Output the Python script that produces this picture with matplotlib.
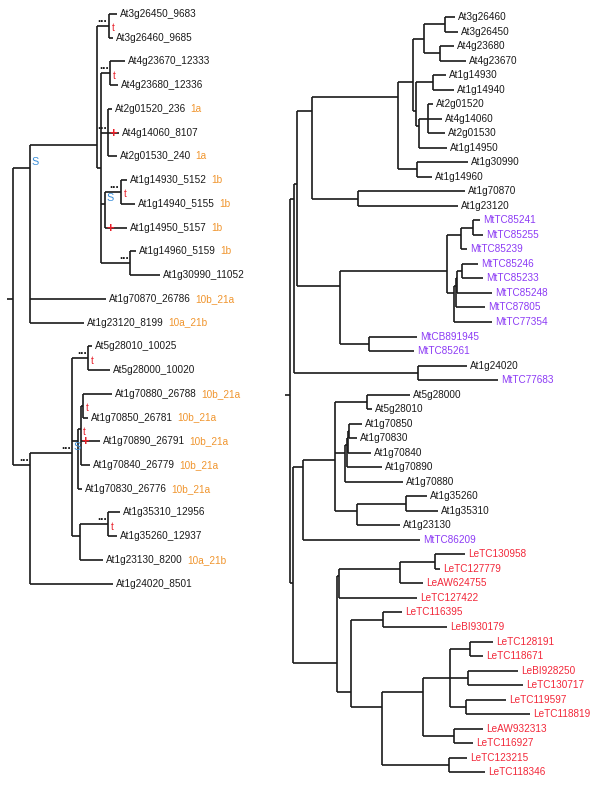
import matplotlib
matplotlib.use("Agg")
import matplotlib.pyplot as plt

plt.rcParams['font.family'] = ['Liberation Sans', 'DejaVu Sans']

# Left tree (Arabidopsis genes), branch lengths.
# Internal node labels: d = dots, t = red t, S = blue S
left_newick = (
    "((((At3g26450_9683:8,At3g26460_9685:4)dt:12,"
    "((At4g23670_12333:15,At4g23680_12336:8)dt:9,"
    "(At2g01520_236:4,At4g14060_8107:11,At2g01530_240:9)d:7,"
    "((At1g14930_5152:6,At1g14940_5155:14)dt:16,At1g14950_5157:22)S:4,"
    "(At1g14960_5159:6,At1g30990_11052:30)d:29):4):67,"
    "At1g70870_26786:76,At1g23120_8199:54)S:17,"
    "(((At5g28010_10025:4,At5g28000_10020:22)dt:16,"
    "(((At1g70880_26788:29,At1g70850_26781:5)t:2.5,At1g70890_26791:19.5,"
    "At1g70840_26779:9.5)t:2.5,At1g70830_26776:4):6,"
    "((At1g35310_12956:12,At1g35260_12937:9)dt:28,At1g23130_8200:23):8)dS:42,"
    "At1g24020_8501:83)d:17)"
)
left_tags = {
    "At2g01520_236": "1a", "At2g01530_240": "1a",
    "At1g14930_5152": "1b", "At1g14940_5155": "1b",
    "At1g14950_5157": "1b", "At1g14960_5159": "1b",
    "At1g70870_26786": "10b_21a", "At1g23120_8199": "10a_21b",
    "At1g70880_26788": "10b_21a", "At1g70850_26781": "10b_21a",
    "At1g70890_26791": "10b_21a", "At1g70840_26779": "10b_21a",
    "At1g70830_26776": "10b_21a", "At1g23130_8200": "10a_21b",
}
left_leaf_marks = ["At4g14060_8107", "At1g14950_5157", "At1g70890_26791"]

# Right tree (Arabidopsis, Medicago, tomato)
right_newick = (
    "((((((((At3g26460:10,At3g26450:13):21,(At4g23680:14,At4g23670:26):16):11,"
    "((At1g14930:13,At1g14940:21):17,((At2g01520:5,At4g14060:14,At2g01530:17):9,"
    "At1g14950:28):3):3):15,(At1g30990:51,At1g14960:15):19):86,"
    "(At1g70870:107,At1g23120:100):46):15,"
    "((((MtTC85241:7,MtTC85255:10):12,MtTC85239:6):14,"
    "((((MtTC85246:16,MtTC85233:21):5,MtTC85248:35):1,MtTC87805:29):2,MtTC77354:38):7):107,"
    "(MtCB891945:48,MtTC85261:45):29):43):3,"
    "(At1g24020:49,MtTC77683:80):124):4,"
    "((((At5g28000:43,At5g28010:5):32,"
    "((((At1g70850:13,At1g70830:8):1,At1g70840:23):1,At1g70890:35):2,At1g70880:58):10,"
    "((At1g35260:21,At1g35310:32):49,At1g23130:43):22):32,MtTC86209:117):10,"
    "((((LeTC130958:30,LeTC127779:5):35,LeAW624755:23):61,LeTC127422:78):2,"
    "((LeTC116395:19,LeBI930179:64):32,"
    "((((LeTC128191:23,LeTC118671:13):20,(LeBI928250:50,LeTC130717:55):18,"
    "(LeTC119597:40,LeTC118819:64):16):27,(LeAW932313:29,LeTC116927:19):31):41,"
    "(LeTC123215:18,LeTC118346:36):67):31):14):44):3)"
)

BLACK = "#1a1a1a"
ORANGE = "#f0952e"
BLUE = "#3b8fd9"
RED = "#e8202a"
PURPLE = "#8d3cf5"
LE_RED = "#f2283a"
FS = 7.2
LW = 1.2


def parse_newick(s):
    pos = 0

    def node():
        nonlocal pos
        children = []
        if s[pos] == '(':
            pos += 1
            children.append(node())
            while s[pos] == ',':
                pos += 1
                children.append(node())
            pos += 1
        start = pos
        while pos < len(s) and s[pos] not in ':,)':
            pos += 1
        name = s[start:pos]
        length = 0.0
        if pos < len(s) and s[pos] == ':':
            pos += 1
            start = pos
            while pos < len(s) and s[pos] not in ',)':
                pos += 1
            length = float(s[start:pos])
        return {'name': name, 'len': length, 'children': children}

    return node()


def layout(tree):
    leaves = []

    def walk(n, x):
        n['x'] = x + n['len']
        if not n['children']:
            n['y'] = float(len(leaves))
            leaves.append(n)
            return [n['y']]
        ys = []
        for c in n['children']:
            ys += walk(c, n['x'])
        n['y'] = sum(ys) / len(ys)
        return ys

    tree['len'] = 0.0
    walk(tree, 0.0)
    return leaves


def draw_tree(ax, tree, stub, label_color, tags=None, leaf_marks=(), events=False):
    tags = tags or {}
    ax.plot([-stub, 0], [tree['y'], tree['y']], color=BLACK, lw=LW, solid_capstyle='butt')

    def walk(n, parent_x):
        if parent_x is not None:
            ax.plot([parent_x, n['x']], [n['y'], n['y']], color=BLACK, lw=LW,
                    solid_capstyle='butt')
        if n['children']:
            ys = [c['y'] for c in n['children']]
            ax.plot([n['x'], n['x']], [min(ys), max(ys)], color=BLACK, lw=LW,
                    solid_capstyle='butt')
            for c in n['children']:
                walk(c, n['x'])
            if events:
                if 'd' in n['name']:
                    ax.text(n['x'] - 1.5, n['y'] - 0.04, "...", fontsize=8.5, fontweight='bold',
                            ha='right', va='bottom', color=BLACK)
                if 't' in n['name']:
                    ax.text(n['x'] + 2.5, n['y'] + 0.1, "t", fontsize=FS, ha='left',
                            va='center', color=RED)
                if 'S' in n['name']:
                    ax.text(n['x'] + 1.5, n['y'] - 0.25, "S", fontsize=7.8, ha='left',
                            va='center', color=BLUE)
        else:
            t = ax.text(n['x'] + 3, n['y'], n['name'], fontsize=FS, ha='left',
                        va='center', color=label_color(n['name']))
            if n['name'] in tags:
                ax.annotate(tags[n['name']], xy=(1, 0.5), xycoords=t, xytext=(3, 0),
                            textcoords='offset points', fontsize=FS, ha='left',
                            va='center', color=ORANGE)
            if n['name'] in leaf_marks:
                ax.text(parent_x + 5, n['y'] + 0.05, "+", fontsize=9.5, fontweight='bold',
                        ha='center', va='center', color=RED, zorder=4)

    walk(tree, None)


def right_color(name):
    if name.startswith("Mt"):
        return PURPLE
    if name.startswith("Le"):
        return LE_RED
    return BLACK


fig = plt.figure(figsize=(6, 7.94), dpi=100)

left_tree = parse_newick(left_newick)
left_leaves = layout(left_tree)
ax1 = fig.add_axes([0, 0, 0.5, 1])
draw_tree(ax1, left_tree, 6, lambda s: BLACK, left_tags, left_leaf_marks, events=True)
ax1.set_xlim(-13, 287)
ax1.set_ylim(32.86, -0.59)
ax1.axis('off')

right_tree = parse_newick(right_newick)
right_leaves = layout(right_tree)
ax2 = fig.add_axes([280 / 600, 0, 320 / 600, 1])
draw_tree(ax2, right_tree, 5, right_color)
ax2.set_xlim(-10, 310)
ax2.set_ylim(53.5, -1.17)
ax2.axis('off')

fig.savefig("out.png", dpi=100)
